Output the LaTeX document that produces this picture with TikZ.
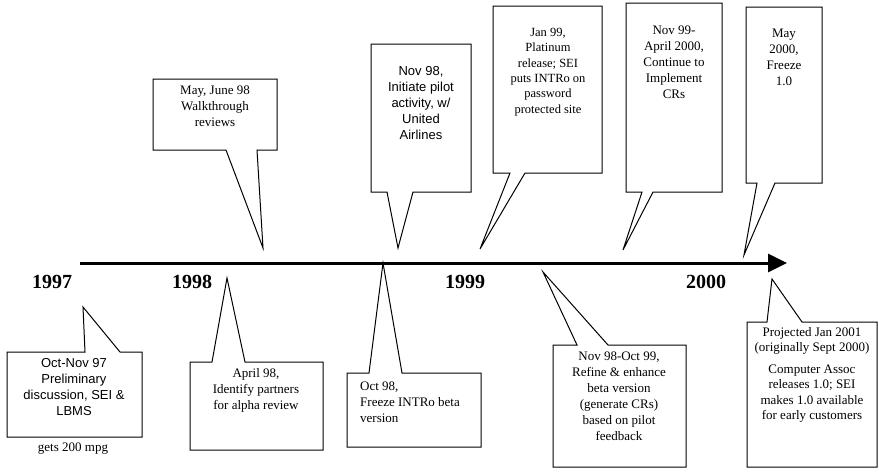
\documentclass[tikz,border=0pt]{standalone}
\usepackage{fontspec}
\setmainfont{Liberation Serif}
\setsansfont{Liberation Sans}
\usepackage{tikz}
\usetikzlibrary{arrows.meta}

\begin{document}
\begin{tikzpicture}[x=1pt,y=-1pt,
        bubble/.style={draw,line width=1pt,line join=miter},
        rmtext/.style={inner sep=0pt,align=center,font=\fontsize{13}{16}\selectfont},
        sftext/.style={inner sep=0pt,align=center,font=\sffamily\fontsize{13}{16}\selectfont},
        yearlabel/.style={inner sep=0pt,font=\bfseries\fontsize{20}{24}\selectfont}]
    \useasboundingbox (0,0) rectangle (879,474);

    \coordinate (start) at (80,263);
    \coordinate (end) at (787,263);
    \draw[line width=3pt,-{Triangle[length=19pt,width=18pt]}] (start) -- (end);

    \node[yearlabel] (y97) at (52,282) {1997};
    \node[yearlabel] (y98) at (192,282) {1998};
    \node[yearlabel] (y99) at (465,282) {1999};
    \node[yearlabel] (y00) at (706,282) {2000};

    % below the line
    \coordinate (tipA) at (83,307);
    \draw[bubble] (7,352) -- (85,352) -- (tipA) -- (120,352) -- (142,352) -- (142,437) -- (7,437) -- cycle;
    \node[sftext] (oct97) at (74,387) {Oct-Nov 97\\Preliminary\\discussion, SEI \&\\LBMS};
    \node[rmtext] (mpg) at (73,449) {gets 200 mpg};

    \coordinate (tipB) at (227,278);
    \draw[bubble] (190,362) -- (212,362) -- (tipB) -- (245,362) -- (323,362) -- (323,450) -- (190,450) -- cycle;
    \node[rmtext] (apr98) at (256,390) {April 98,\\Identify partners\\for alpha review};

    \coordinate (tipC) at (383,263);
    \draw[bubble] (347,373) -- (369,373) -- (tipC) -- (402,373) -- (481,373) -- (481,447) -- (347,447) -- cycle;
    \node[rmtext,align=left,anchor=west] (oct98) at (360,402) {Oct 98,\\Freeze INTRo beta\\version};

    \coordinate (tipD) at (543,272);
    \draw[bubble] (553,345) -- (577,345) -- (tipD) -- (608,345) -- (686,345) -- (686,467) -- (553,467) -- cycle;
    \node[rmtext] (refine) at (619,396) {Nov 98-Oct 99,\\Refine \& enhance\\beta version\\(generate CRs)\\based on pilot\\feedback};

    \coordinate (tipE) at (772,279);
    \draw[bubble] (747,322) -- (767,322) -- (tipE) -- (802,322) -- (877,322) -- (877,467) -- (747,467) -- cycle;
    \node[rmtext,font=\fontsize{13}{15.5}\selectfont] (proj) at (812,375) {Projected Jan 2001\\(originally Sept 2000)\\[6pt]Computer Assoc\\releases 1.0; SEI\\makes 1.0 available\\for early customers};

    % above the line
    \coordinate (tipF) at (263,248);
    \draw[bubble] (153,79) -- (277,79) -- (277,150) -- (257,150) -- (tipF) -- (226,150) -- (153,150) -- cycle;
    \node[rmtext] (may98) at (215,106) {May, June 98\\Walkthrough\\reviews};

    \coordinate (tipG) at (398,248);
    \draw[bubble] (371,44) -- (471,44) -- (471,192) -- (413,192) -- (tipG) -- (387,192) -- (371,192) -- cycle;
    \node[sftext] (nov98) at (421,103) {Nov 98,\\Initiate pilot\\activity, w/\\United\\Airlines};

    \coordinate (tipH) at (480,249);
    \draw[bubble] (493,6) -- (602,6) -- (602,173) -- (525,173) -- (tipH) -- (510,173) -- (493,173) -- cycle;
    \node[rmtext,font=\fontsize{12.5}{15.4}\selectfont] (jan99) at (548,72) {Jan 99,\\Platinum\\release; SEI\\puts INTRo on\\password\\protected site};

    \coordinate (tipI) at (623,250);
    \draw[bubble] (626,3) -- (722,3) -- (722,192) -- (653,192) -- (tipI) -- (642,192) -- (626,192) -- cycle;
    \node[rmtext] (nov99) at (674,62) {Nov 99-\\April 2000,\\Continue to\\Implement\\CRs};

    \coordinate (tipJ) at (744,255);
    \draw[bubble] (746,7) -- (822,7) -- (822,183) -- (775,183) -- (tipJ) -- (757,183) -- (746,183) -- cycle;
    \node[rmtext] (may00) at (784,57) {May\\2000,\\Freeze\\1.0};
\end{tikzpicture}
\end{document}
